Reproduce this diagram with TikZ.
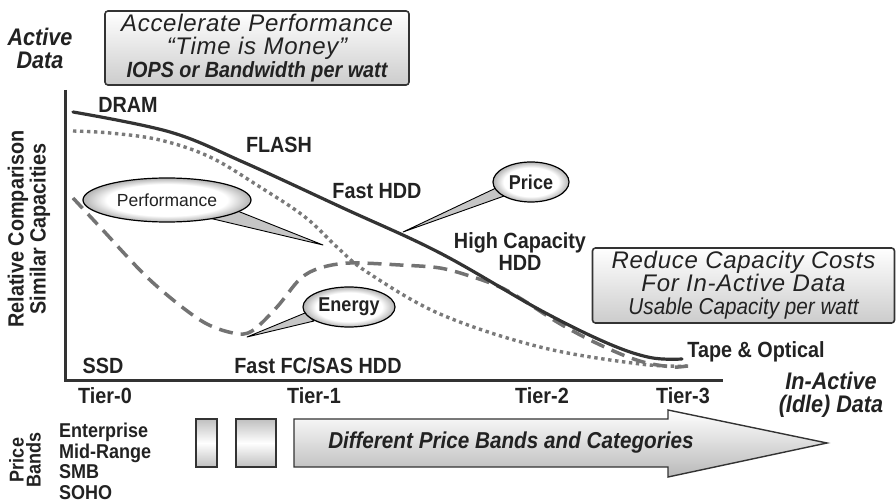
\documentclass[tikz,border=0pt]{standalone}
\usepackage{fontspec}
\setmainfont{Liberation Sans}
\newfontfamily\nf[FakeStretch=0.9]{Liberation Sans}
\newfontfamily\wf[LetterSpace=3]{Liberation Sans}
\usetikzlibrary{shapes.geometric,calc}
\definecolor{ink}{HTML}{222222}
\definecolor{curvedark}{HTML}{333333}
\definecolor{curvedash}{HTML}{737373}
\definecolor{curvedot}{HTML}{7A7A7A}
\pgfdeclareradialshading{bubbleshade}{\pgfpoint{0bp}{0bp}}{color(0bp)=(white); color(18bp)=(white); color(25bp)=(gray!60); color(50bp)=(gray!60)}
\tikzset{
  lbl/.style={text=ink, font=\nf\bfseries\fontsize{22}{24}\selectfont, inner sep=0pt},
  ilbl/.style={text=ink, font=\nf\bfseries\itshape\fontsize{24}{23}\selectfont, inner sep=0pt, align=center},
  bandlbl/.style={text=ink, font=\nf\bfseries\fontsize{20}{20.5}\selectfont, inner sep=0pt, anchor=base west},
  msgbox/.style={draw=curvedark, line width=1.6pt, rounded corners=3pt, shading=axis, top color=white, middle color=white, bottom color=gray!40, align=center, text=ink, inner sep=0pt, font=\fontsize{24}{23}\selectfont},
  bubble/.style={ellipse, draw=black, line width=1.2pt, shading=bubbleshade, text=ink, inner sep=0pt},
  tail/.style={fill=gray!45, draw=black, line width=0.9pt, line join=round},
  bandbox/.style={draw=curvedark, line width=1.4pt, shading=axis, left color=gray!50, right color=gray!50, middle color=white, shading angle=0},
  axisline/.style={draw=curvedark, line width=3pt},
  solidcurve/.style={draw=curvedark, line width=3.2pt, line cap=round},
  dashcurve/.style={draw=curvedash, line width=3.5pt, dash pattern=on 14pt off 8pt},
  dotcurve/.style={draw=curvedot, line width=3.4pt, dash pattern=on 3.4pt off 3.6pt}
}
\begin{document}
\begin{tikzpicture}[x=1pt,y=-1pt]
\useasboundingbox (0,0) rectangle (896,502);

% axes
\coordinate (ytop) at (65,90);
\coordinate (orig) at (65,380);
\coordinate (xend) at (723,380);
\draw[axisline] (ytop) -- (orig) -- (xend);

% curves
\draw[dotcurve] plot[smooth, tension=0.6] coordinates {(73,131) (110,133) (160,140) (210,157) (260,187) (305,217) (338,248) (367,272) (440,314) (540,347) (640,364) (690,366)};
\draw[dashcurve] plot[smooth, tension=0.55] coordinates {(73,198) (100,227) (150,280) (200,320) (233,333) (252,331) (277,307) (300,279) (320,268) (350,263) (400,265) (440,268) (473,277) (500,287) (523,300) (557,322) (590,340) (623,355) (647,363) (673,367) (687,366)};
\draw[solidcurve] plot[smooth, tension=0.6] coordinates {(73,112) (170,132) (243,162) (343,208) (440,253) (540,310) (607,343) (650,357.5) (682,359)};

% top box
\node[msgbox, minimum width=304, minimum height=74] (accel) at (257,48)
  {{\wf\itshape\fontsize{24}{23}\selectfont Accelerate Performance}\\
   {\wf\itshape\fontsize{24}{23}\selectfont \textquotedblleft Time is Money\textquotedblright}\\
   {\nf\bfseries\itshape\fontsize{22}{23}\selectfont IOPS or Bandwidth per watt}};

% reduce box
\node[msgbox, minimum width=302, minimum height=75] (reduce) at (743.5,285.5)
  {{\wf\itshape\fontsize{24}{23}\selectfont Reduce Capacity Costs}\\
   {\wf\itshape\fontsize{24}{23}\selectfont For In-Active Data}\\
   {\nf\itshape\fontsize{23}{23}\selectfont Usable Capacity per watt}};

% axis labels
\node[ilbl] (active) at (40,48) {Active\\Data};
\node[ilbl] (inactive) at (831,395) {In-Active\\(Idle) Data};
\node[lbl, rotate=90, align=center, font=\nf\bfseries\fontsize{22}{22}\selectfont] (ylab) at (29,229) {Relative Comparison\\Similar Capacities};

% technology labels
\node[lbl] (dram) at (128,105) {DRAM};
\node[lbl] (flash) at (279,145) {FLASH};
\node[lbl] (fasthdd) at (377,191) {Fast HDD};
\node[lbl, align=center, font=\nf\bfseries\fontsize{22}{22}\selectfont] (highcap) at (520,252) {High Capacity\\HDD};
\node[lbl] (tape) at (756,352) {Tape \& Optical};
\node[lbl] (ssd) at (103,366) {SSD};
\node[lbl] (fcsas) at (318,366) {Fast FC/SAS HDD};

% tiers
\node[lbl] (t0) at (105,396) {Tier-0};
\node[lbl] (t1) at (314,396) {Tier-1};
\node[lbl] (t2) at (542,396) {Tier-2};
\node[lbl] (t3) at (683,396) {Tier-3};

% callouts
\coordinate (perfc) at (167,200);
\coordinate (perftip) at (323,245);
\filldraw[tail] ($(perfc)+(68,10)$) -- (perftip) -- ($(perfc)+(42,18)$) -- cycle;
\node[bubble, minimum width=168, minimum height=44, font=\fontsize{17.5}{17.5}\selectfont] (perf) at (perfc) {Performance};

\coordinate (energyc) at (349,307);
\coordinate (energytip) at (247,337);
\filldraw[tail] ($(energyc)+(-44,6)$) -- (energytip) -- ($(energyc)+(-35,14)$) -- cycle;
\node[bubble, minimum width=92, minimum height=40, font=\nf\bfseries\fontsize{20}{20}\selectfont] (energy) at (energyc) {Energy};

\coordinate (pricec) at (531,182);
\coordinate (pricetip) at (403,232);
\filldraw[tail] ($(pricec)+(-35,6)$) -- (pricetip) -- ($(pricec)+(-24,13)$) -- cycle;
\node[bubble, minimum width=76, minimum height=40, font=\nf\bfseries\fontsize{20}{20}\selectfont] (price) at (pricec) {Price};

% price bands
\node[lbl, rotate=90, align=center, font=\nf\bfseries\fontsize{20}{17}\selectfont] (pb) at (25,460) {Price\\Bands};
\node[bandlbl] (ent) at (59,437) {Enterprise};
\node[bandlbl] (mid) at (59,458) {Mid-Range};
\node[bandlbl] (smb) at (59,478.5) {SMB};
\node[bandlbl] (soho) at (59,499) {SOHO};

\node[bandbox, minimum width=21, minimum height=48, inner sep=0pt] (box1) at (206.5,443) {};
\node[bandbox, minimum width=40, minimum height=48, inner sep=0pt] (box2) at (256,443) {};

\path[draw=curvedark, line width=1.4pt, line join=miter, shading=axis, top color=white, middle color=white, bottom color=gray!55]
  (294,419) -- (668,419) -- (668,410) -- (827,443) -- (668,477) -- (668,467) -- (294,467) -- cycle;
\node[text=ink, font=\nf\bfseries\itshape\fontsize{23}{23}\selectfont, inner sep=0pt] (bandtxt) at (511,443) {Different Price Bands and Categories};
\end{tikzpicture}
\end{document}
